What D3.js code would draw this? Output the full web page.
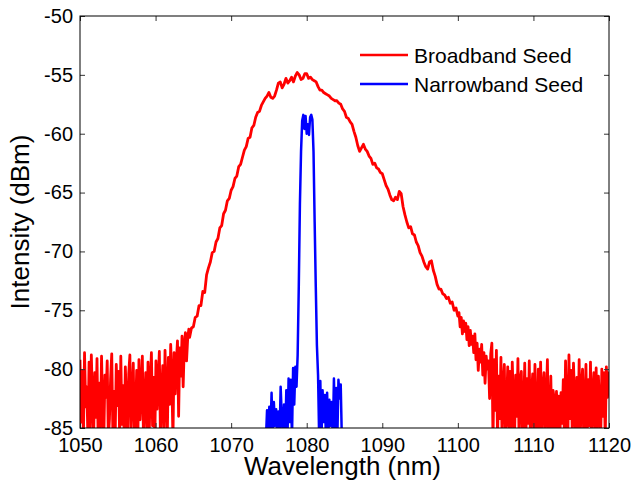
<!DOCTYPE html>
<html lang="en">
<head>
<meta charset="UTF-8">
<title>Seed spectra</title>
<script src="https://d3js.org/d3.v7.js"></script>
<style>
  body { margin: 0; background: white; }
  text { font-family: "Liberation Sans", Arial, sans-serif; fill: black; }
</style>
</head>
<body>
<svg id="chart" width="633" height="489"></svg>
<script>

// axis ticks
var xTicks = [1050, 1060, 1070, 1080, 1090, 1100, 1110, 1120];
var yTicks = [-85, -80, -75, -70, -65, -60, -55, -50];
var seriesNames = ["Broadband Seed", "Narrowband Seed"];

// broadband seed, noisy floor on the blue side: 1050.00 -> 1064.40 nm, every 0.15 nm
var broadLeft = [
  -79.2,-84.5,-80.1,-86,-78.6,-83.2,-81.5,-86,-79.4,-85,-78.8,-82.7,-86,-80.3,-84.1,-79.1,-86,-81.2,-85.3,-78.9,
  -83.6,-86,-80.5,-82.4,-79.3,-86,-84.2,-80.8,-78.7,-85.6,-81.9,-86,-79.6,-83.1,-80.2,-86,-78.9,-84.7,-81.4,-86,
  -79.8,-82.9,-86,-80.4,-78.8,-85.2,-82.1,-79.5,-86,-83.8,-80.1,-86,-79.2,-84.3,-81.6,-78.9,-86,-82.6,-80.3,-85.1,
  -79.4,-86,-81.2,-78.6,-84.8,-80.7,-86,-79.3,-83.4,-81.0,-78.5,-86,-82.2,-79.7,-85.4,-78.4,-81.9,-86,-79.0,-83.0,
  -77.9,-80.8,-86,-78.6,-82.1,-79.4,-77.6,-84.0,-78.2,-80.6,-77.2,-81.5,-78.0,-76.9,-79.3,-77.4,-76.6
];
// broadband seed, main hump: 1064.50 -> 1100.00 nm, every 0.25 nm
var broadMid = [
  -77.3,-76.5,-76.4,-75.6,-75.5,-74.6,-74.6,-73.4,-73.5,-72.0,
  -71.4,-70.9,-70.1,-70.0,-69.2,-68.9,-68.0,-67.8,-66.8,-66.5,
  -65.7,-65.5,-64.8,-64.5,-63.8,-63.6,-62.8,-62.6,-62.0,-61.4,
  -61.1,-60.4,-60.3,-59.5,-59.3,-58.6,-58.2,-58.1,-57.6,-57.3,
  -57.0,-56.8,-56.5,-56.9,-57.0,-56.8,-56.3,-55.7,-55.6,-56.1,
  -55.8,-55.3,-55.7,-55.5,-55.2,-55.6,-55.1,-54.8,-55.0,-55.4,
  -55.3,-54.9,-54.9,-55.3,-55.2,-55.4,-55.5,-55.6,-56.0,-56.3,
  -56.3,-56.5,-56.6,-56.7,-56.8,-57.0,-57.1,-57.2,-57.2,-57.4,
  -57.5,-57.9,-58.1,-58.6,-58.7,-59.0,-59.2,-59.8,-60.3,-61.0,
  -61.5,-61.2,-60.9,-61.3,-61.5,-61.9,-62.1,-62.6,-62.5,-62.9,
  -63.0,-63.3,-63.4,-63.9,-64.4,-64.7,-65.2,-65.6,-65.7,-65.4,
  -65.6,-64.9,-65.1,-66.2,-66.9,-67.5,-68.0,-67.9,-68.5,-68.6,
  -69.2,-69.5,-70.1,-70.4,-70.9,-71.3,-71.5,-70.9,-70.8,-71.6,
  -72.1,-72.8,-73.2,-73.2,-73.6,-73.7,-74.0,-73.9,-74.4,-74.3,
  -75.0,-74.8,-75.5
];
// broadband seed, noisy floor on the red side: 1100.15 -> 1119.95 nm, every 0.15 nm
var broadRight = [
  -75.2,-76.4,-75.6,-77.0,-75.9,-76.8,-76.1,-77.5,-76.4,-78.0,-76.7,-77.9,-77.2,-78.6,-77.0,-79.2,-77.8,-80.1,-78.3,-79.4,
  -77.9,-80.5,-78.6,-81.2,-78.9,-80.0,-79.3,-82.5,-78.7,
  -77.8,-86,-79.2,-83.5,-78.4,-86,-80.6,-84.2,-79.0,-86,-81.3,-79.6,-86,-83.0,-79.8,-85.4,-80.2,-86,-79.4,-82.8,
  -86,-80.5,-84.0,-79.1,-86,-81.0,-80.2,-86,-83.6,-79.5,-86,-80.8,-84.6,-79.3,-86,-82.1,-80.4,-86,-79.6,-83.9,
  -86,-80.0,-85.1,-79.4,-86,-81.6,-80.3,-86,-82.7,-79.2,-86,-84.4,-80.6,-86,-81.8,-82.5,-86,-81.9,-85.0,-82.3,
  -86,-82.0,-84.6,-80.9,-86,-79.3,-83.7,-86,-78.8,-84.2,-80.1,-86,-79.5,-82.6,-86,-80.7,-85.3,-79.2,-86,-81.4,
  -80.0,-86,-83.2,-79.6,-86,-80.9,-84.8,-79.4,-86,-82.0,-80.3,-86,-79.9,-85.5,-80.6,-83.1,-86,-80.0,-84.0,-80.3,
  -86,-79.8,-82.4,-80.2
];
// narrowband seed: 1074.60 -> 1084.95 nm, every 0.15 nm
var narrowBand = [
  -86,-83.5,-86,-83.2,-85.5,-82.0,-86,-82.8,-84.8,-83.4,
  -86,-83.6,-86,-81.5,-84.0,-86,-83.0,-86,-81.8,-86,
  -80.8,-84.5,-80.9,-86,-79.9,-83.0,-79.8,-81.5,-78.8,-73.0,
  -66.0,-61.5,-58.9,-58.4,-59.6,-58.5,-60.0,-59.2,-60.1,-58.6,
  -58.4,-58.8,-61.5,-67.5,-73.0,-78.0,-80.5,-86,-81.0,-86,
  -81.8,-84.5,-82.2,-86,-82.0,-86,-82.6,-84.8,-82.8,-86,
  -80.8,-85.0,-81.6,-86,-80.9,-82.5,-81.3,-86,-86,-86
];

// turn a sampled segment into [wavelength, dBm] pairs
function samples(start, step, values) {
  return values.map(function(v, i) { return [start + i * step, v]; });
}

var broadData = samples(1050, 0.15, broadLeft)
  .concat(samples(1064.5, 0.25, broadMid))
  .concat(samples(1100.15, 0.15, broadRight));
var narrowData = samples(1074.6, 0.15, narrowBand);

// plot box (note: "top" is taken by window.top, so prefix them)
var boxLeft = 80, boxRight = 609, boxTop = 16, boxBottom = 428;

var svg = d3.select("#chart");

var x = d3.scaleLinear().domain([1050, 1120]).range([boxLeft, boxRight]);
var y = d3.scaleLinear().domain([-85, -50]).range([boxBottom, boxTop]);

// keep the traces inside the axes box
svg.append("clipPath").attr("id", "plotArea")
  .append("rect")
  .attr("x", boxLeft).attr("y", boxTop)
  .attr("width", boxRight - boxLeft).attr("height", boxBottom - boxTop);

var line = d3.line()
  .x(function(d) { return x(d[0]); })
  .y(function(d) { return y(d[1]); });

var traces = svg.append("g").attr("clip-path", "url(#plotArea)");

traces.append("path")
  .datum(broadData)
  .attr("d", line)
  .attr("fill", "none")
  .attr("stroke", "#ff0000")
  .attr("stroke-width", 2.8)
  .attr("stroke-linejoin", "round");

traces.append("path")
  .datum(narrowData)
  .attr("d", line)
  .attr("fill", "none")
  .attr("stroke", "#0000ff")
  .attr("stroke-width", 2.5)
  .attr("stroke-linejoin", "round");

// box axes with inward ticks, like matlab
function styleAxis(g) {
  g.select(".domain").remove();
  g.selectAll(".tick line").attr("stroke", "#333").attr("stroke-width", 1);
  g.selectAll("text").attr("font-size", 20).attr("fill", "black");
}

// plain hyphen for the negative labels, not the unicode minus
var plain = function(d) { return String(d); };

svg.append("g")
  .attr("transform", "translate(0," + boxBottom + ")")
  .call(d3.axisBottom(x).tickValues(xTicks).tickSizeInner(-5).tickSizeOuter(0).tickPadding(10).tickFormat(plain))
  .call(styleAxis);

svg.append("g")
  .attr("transform", "translate(0," + boxTop + ")")
  .call(d3.axisTop(x).tickValues(xTicks).tickSizeInner(-5).tickSizeOuter(0).tickFormat(""))
  .call(styleAxis);

svg.append("g")
  .attr("transform", "translate(" + boxLeft + ",0)")
  .call(d3.axisLeft(y).tickValues(yTicks).tickSizeInner(-5).tickSizeOuter(0).tickPadding(7).tickFormat(plain))
  .call(styleAxis);

svg.append("g")
  .attr("transform", "translate(" + boxRight + ",0)")
  .call(d3.axisRight(y).tickValues(yTicks).tickSizeInner(-5).tickSizeOuter(0).tickFormat(""))
  .call(styleAxis);

svg.append("rect")
  .attr("x", boxLeft).attr("y", boxTop)
  .attr("width", boxRight - boxLeft).attr("height", boxBottom - boxTop)
  .attr("fill", "none").attr("stroke", "black").attr("stroke-width", 1);

// axis titles
svg.append("text")
  .attr("x", (boxLeft + boxRight) / 2 - 2).attr("y", 475)
  .attr("text-anchor", "middle").attr("font-size", 26)
  .text("Wavelength (nm)");

svg.append("text")
  .attr("transform", "translate(29," + ((boxTop + boxBottom) / 2) + ") rotate(-90)")
  .attr("text-anchor", "middle").attr("font-size", 26)
  .text("Intensity (dBm)");

// legend, no frame
var colors = ["#ff0000", "#0000ff"];
var legend = svg.append("g");
seriesNames.forEach(function(name, i) {
  var ly = 55 + i * 29;
  legend.append("line")
    .attr("x1", 360).attr("x2", 408).attr("y1", ly).attr("y2", ly)
    .attr("stroke", colors[i]).attr("stroke-width", 2.5);
  legend.append("text")
    .attr("x", 414).attr("y", ly + 8)
    .attr("font-size", 21)
    .text(name);
});

</script>
</body>
</html>
